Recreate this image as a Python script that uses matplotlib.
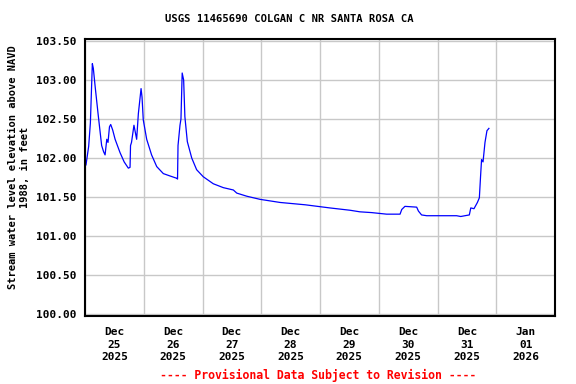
import numpy as np
import matplotlib
matplotlib.use("Agg")
import matplotlib.pyplot as plt
import matplotlib.dates as mdates
from matplotlib.ticker import FixedLocator, NullFormatter
import datetime as dt

# hours since 2025-12-25 00:00 and water level (ft)
horas = [0.0, 0.4, 1.5, 2.2, 3.0, 3.4, 4.2, 5.4, 6.8, 7.6, 8.2, 8.9, 9.4, 10.0, 10.5,
         11.3, 12.3, 14.3, 16.0, 17.7, 18.4, 18.6, 19.0, 20.0, 21.1, 21.8, 22.9, 23.3,
         23.8, 25.2, 27.2, 29.3, 32.0, 34.7, 37.5, 37.8, 38.0, 38.8, 39.2, 39.7, 40.3,
         40.8, 41.8, 43.6, 45.6, 48.3, 52.4, 56.5, 60.6, 62.0, 66.1, 71.5, 79.7, 90.0,
         100.0, 108.3, 112.3, 117.1, 123.2, 128.7, 129.4, 130.7, 135.5, 136.2, 137.5,
         139.6, 151.8, 153.5, 155.2, 157.0, 157.6, 158.9, 160.3, 161.1, 161.6, 162.0,
         162.6, 163.4, 164.2, 165.0]
nivel = [101.90, 101.91, 102.15, 102.45, 103.21, 103.15, 102.90, 102.55, 102.16, 102.08,
         102.04, 102.24, 102.20, 102.40, 102.43, 102.36, 102.24, 102.07, 101.95, 101.87,
         101.88, 102.16, 102.20, 102.42, 102.24, 102.57, 102.89, 102.78, 102.49, 102.24,
         102.04, 101.89, 101.80, 101.77, 101.74, 101.73, 102.16, 102.42, 102.50, 103.09,
         103.00, 102.53, 102.21, 102.00, 101.85, 101.76, 101.67, 101.62, 101.59, 101.55,
         101.51, 101.47, 101.43, 101.40, 101.36, 101.33, 101.31, 101.30, 101.28, 101.28,
         101.34, 101.38, 101.37, 101.32, 101.27, 101.26, 101.26, 101.25, 101.26, 101.27,
         101.36, 101.35, 101.43, 101.49, 101.77, 101.98, 101.95, 102.20, 102.35, 102.38]

inicio = dt.datetime(2025, 12, 25)
tempos = [inicio + dt.timedelta(hours=h) for h in horas]

dias = [inicio + dt.timedelta(days=d) for d in range(9)]
rotulos = ["Dec\n25\n2025", "Dec\n26\n2025", "Dec\n27\n2025", "Dec\n28\n2025",
           "Dec\n29\n2025", "Dec\n30\n2025", "Dec\n31\n2025", "Jan\n01\n2026"]
y_ticks = [100.0, 100.5, 101.0, 101.5, 102.0, 102.5, 103.0, 103.5]

FONTE = "DejaVu Sans Mono"

fig = plt.figure(figsize=(5.76, 3.84), dpi=100)
ax = fig.add_axes([85/576, 1 - 315.7/384, 470/576, 276.7/384])

ax.plot(tempos, nivel, color="#0000ff", lw=0.9)

ax.set_xlim(dias[0], dias[-1])
ax.set_ylim(99.978, 103.526)

ax.xaxis.set_major_locator(FixedLocator(mdates.date2num(dias)))
ax.xaxis.set_major_formatter(NullFormatter())
meio = [d + dt.timedelta(hours=12) for d in dias[:-1]]
ax.set_xticks(mdates.date2num(meio), minor=True)
ax.set_xticklabels(rotulos, minor=True, fontfamily=FONTE, fontweight="bold", fontsize=8,
                   linespacing=1.35)
ax.tick_params(axis="x", which="both", length=0, pad=8)

ax.set_yticks(y_ticks)
ax.set_yticklabels([f"{v:.2f}" for v in y_ticks], fontfamily=FONTE, fontweight="bold",
                   fontsize=8)
ax.tick_params(axis="y", length=0, pad=6)

ax.grid(True, which="major", color="#c8c8c8", lw=1.0)
for s in ax.spines.values():
    s.set_linewidth(1.5)
    s.set_color("black")

fig.text(19/576, 1 - 167.5/384, "Stream water level elevation above NAVD\n1988, in feet",
         rotation=90, ha="center", va="center", multialignment="center",
         fontfamily=FONTE, fontweight="bold", fontsize=7.5, linespacing=1.25)

fig.text(289.5/576, 1 - 19/384, "USGS 11465690 COLGAN C NR SANTA ROSA CA",
         ha="center", va="center", fontfamily=FONTE, fontweight="bold", fontsize=7.6)
fig.text(318/576, 1 - 375/384, "---- Provisional Data Subject to Revision ----",
         ha="center", va="center", fontfamily=FONTE, fontweight="bold", fontsize=8.3,
         color="#ff0000")

fig.savefig("out.png", dpi=100)
